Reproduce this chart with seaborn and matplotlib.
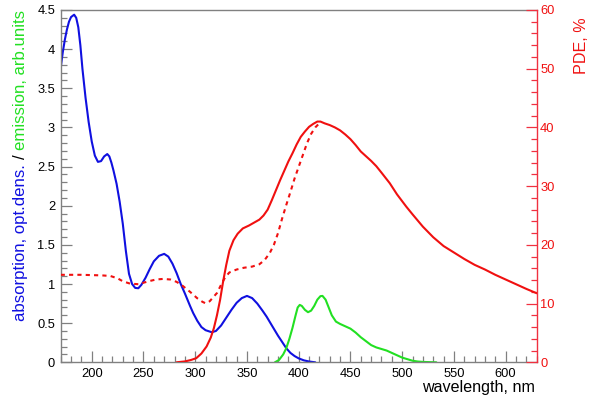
import matplotlib
matplotlib.use("Agg")
import matplotlib.pyplot as plt
import seaborn as sns
import numpy as np
import pandas as pd
from matplotlib.ticker import MultipleLocator, FuncFormatter

sns.set_theme(style="white")
plt.rcParams['font.family'] = ['Liberation Sans', 'DejaVu Sans']

# ---------------- data ----------------
wl_abs = [170, 172, 174, 176, 178, 180, 183, 185, 187, 189, 191, 194, 197, 200,
          203, 206, 209, 212, 215, 217, 219, 221, 224, 227, 230, 233, 236, 239,
          242, 245, 248, 252, 256, 260, 265, 270, 274, 278, 282, 286, 290, 295,
          298, 302, 306, 310, 316, 320, 325, 330, 335, 340, 345, 350, 355, 360,
          365, 369, 375, 380, 385, 388, 392, 396, 400, 405, 410, 416]
absorption = [3.76, 3.96, 4.12, 4.25, 4.35, 4.41, 4.44, 4.40, 4.28, 4.05, 3.75,
              3.38, 3.07, 2.82, 2.64, 2.56, 2.57, 2.63, 2.66, 2.63, 2.55, 2.45,
              2.28, 2.05, 1.77, 1.42, 1.13, 1.00, 0.95, 0.946, 0.99, 1.08, 1.19,
              1.29, 1.36, 1.385, 1.35, 1.26, 1.14, 1.00, 0.88, 0.72, 0.63, 0.53,
              0.45, 0.41, 0.384, 0.40, 0.47, 0.57, 0.67, 0.76, 0.82, 0.848, 0.82,
              0.75, 0.66, 0.583, 0.45, 0.34, 0.24, 0.18, 0.12, 0.08, 0.05, 0.025,
              0.01, 0.0]

wl_em = [377, 381, 385, 388, 391, 394, 397, 399, 401, 403, 406, 409, 412, 415,
         418, 421, 423, 426, 429, 432, 436, 440, 445, 450, 455, 460, 465, 470,
         475, 480, 485, 490, 495, 500, 505, 510, 515, 520, 527, 533]
emission = [0.0, 0.03, 0.10, 0.18, 0.30, 0.44, 0.60, 0.70, 0.733, 0.72, 0.67,
            0.64, 0.66, 0.72, 0.80, 0.845, 0.848, 0.80, 0.70, 0.60, 0.52, 0.49,
            0.46, 0.43, 0.38, 0.32, 0.27, 0.22, 0.19, 0.17, 0.15, 0.12, 0.09,
            0.06, 0.04, 0.02, 0.01, 0.005, 0.002, 0.0]

wl_pde = [282, 290, 296, 301, 306, 311, 315, 318, 321, 324, 327, 330, 333, 337,
          341, 346, 352, 357, 362, 366, 370, 374, 378, 382, 386, 390, 394, 398,
          402, 406, 410, 414, 418, 421, 425, 430, 435, 440, 445, 450, 455, 460,
          465, 470, 475, 480, 488, 495, 504, 510, 520, 530, 540, 550, 560, 570,
          580, 590, 600, 610, 620, 630]
pde = [0.0, 0.15, 0.4, 0.7, 1.5, 2.7, 4.2, 5.8, 8.0, 10.6, 13.8, 16.6, 19.0,
       20.8, 21.9, 22.8, 23.3, 23.8, 24.3, 25.0, 26.0, 27.6, 29.3, 31.0, 32.6,
       34.2, 35.6, 37.1, 38.4, 39.3, 40.1, 40.6, 41.0, 41.0, 40.7, 40.4, 40.0,
       39.5, 38.8, 38.0, 37.0, 35.9, 35.1, 34.3, 33.4, 32.3, 30.5, 28.6, 26.5,
       25.2, 23.1, 21.3, 19.8, 18.7, 17.6, 16.6, 15.8, 14.9, 14.1, 13.3, 12.5,
       11.76]

wl_pde2 = [170, 180, 190, 200, 210, 218, 225, 230, 237, 245, 255, 262, 269, 276,
           282, 288, 295, 302, 307, 310, 314, 318, 321, 325, 329, 333, 340, 347,
           355, 362, 367, 372, 376, 380, 384, 388, 392, 396, 400, 404, 408, 412,
           416, 421]
pde2 = [14.9, 14.9, 14.9, 14.85, 14.8, 14.7, 14.3, 13.8, 13.4, 13.3, 13.8, 14.1,
        14.2, 14.1, 13.7, 13.0, 12.0, 10.9, 10.3, 10.05, 10.4, 11.2, 11.8, 13.2,
        14.5, 15.3, 15.8, 16.1, 16.3, 16.7, 17.4, 18.6, 20.0, 22.0, 24.5, 26.8,
        29.0, 31.3, 33.3, 35.3, 37.3, 38.9, 40.0, 40.9]

label_abs = "absorption, opt.dens."
label_sep = "/"
label_em = "emission, arb.units"
label_x = "wavelength, nm"
label_pde = "PDE, %"

BLUE = "#1010e0"
GREEN = "#22e022"
RED = "#f01010"
RED_AX = "#f03040"
GREY = "#808080"

W, H = 600, 411
fig = plt.figure(figsize=(6, 4.11), dpi=100)
ax = fig.add_axes([60.7 / W, 1 - 362.3 / H, 476 / W, 352.3 / H])
ax2 = ax.twinx()

LW = 1.5
sns.lineplot(x=wl_abs, y=absorption, ax=ax, color=BLUE, lw=LW, estimator=None, sort=False)
sns.lineplot(x=wl_em, y=emission, ax=ax, color=GREEN, lw=LW, estimator=None, sort=False)
sns.lineplot(x=wl_pde, y=pde, ax=ax2, color=RED, lw=LW, estimator=None, sort=False)
sns.lineplot(x=wl_pde2, y=pde2, ax=ax2, color=RED, lw=LW, estimator=None, sort=False,
             linestyle=(0, (2, 2)))

ax.set_xlim(170, 630)
ax.set_ylim(0, 4.5)
ax2.set_ylim(0, 60)
ax.set_xlabel("")
ax.set_ylabel("")
ax2.set_ylabel("")

fmt = FuncFormatter(lambda v, p: f"{v:g}")
ax.xaxis.set_major_locator(MultipleLocator(50))
ax.xaxis.set_minor_locator(MultipleLocator(10))
ax.yaxis.set_major_locator(MultipleLocator(0.5))
ax.yaxis.set_minor_locator(MultipleLocator(0.1))
ax.yaxis.set_major_formatter(fmt)
ax2.yaxis.set_major_locator(MultipleLocator(10))
ax2.yaxis.set_minor_locator(MultipleLocator(2))
ax2.yaxis.set_major_formatter(fmt)

for s in ["left", "bottom", "top"]:
    ax.spines[s].set_color(GREY)
    ax.spines[s].set_linewidth(1.0)
    ax2.spines[s].set_visible(False)
ax.spines["right"].set_visible(False)
ax2.spines["right"].set_color(RED_AX)
ax2.spines["right"].set_linewidth(1.0)

ax.tick_params(axis="both", which="both", direction="in", color=GREY, width=0.9,
               labelcolor="black", labelsize=9.3, top=False, right=False,
               bottom=True, left=True)
ax.tick_params(axis="both", which="major", length=8)
ax.tick_params(axis="both", which="minor", length=4)
ax.tick_params(axis="x", which="major", pad=4)
ax.tick_params(axis="y", which="major", pad=4)
ax2.tick_params(axis="y", which="both", direction="in", color=RED_AX, width=0.9,
                labelcolor=RED, labelsize=9.3, right=True, left=False, pad=2.5)
ax2.tick_params(axis="y", which="major", length=8)
ax2.tick_params(axis="y", which="minor", length=4)

# axis titles
FS = 11.6
fig.text(535 / W, 1 - 392 / H, label_x, ha="right", va="baseline", fontsize=FS,
         color="black")
fig.text(586 / W, 1 - 17 / H, label_pde, rotation=90, rotation_mode="anchor",
         ha="right", va="baseline", fontsize=FS, color=RED)

# multi-coloured left title, reading bottom to top, ending at the top of the axes
FSL = 12.1
fig.canvas.draw()
r = fig.canvas.get_renderer()


def text_len(s):
    t = fig.text(0, 0, s, fontsize=FSL, rotation=90, rotation_mode="anchor")
    e = t.get_window_extent(r)
    t.remove()
    return e.height


sp = text_len("a a") - text_len("aa")
pieces = [(label_abs, BLUE), (label_sep, "black"), (label_em, GREEN)]
lens = [text_len(p) for p, _ in pieces]
total = sum(lens) + 2 * sp
top_px = H - 10
y0 = top_px - total
bx = 25
for (s, c), L in zip(pieces, lens):
    fig.text(bx / W, y0 / H, s, rotation=90, rotation_mode="anchor", ha="left",
             va="baseline", fontsize=FSL, color=c)
    y0 += L + sp

fig.savefig("out.png", dpi=100)
